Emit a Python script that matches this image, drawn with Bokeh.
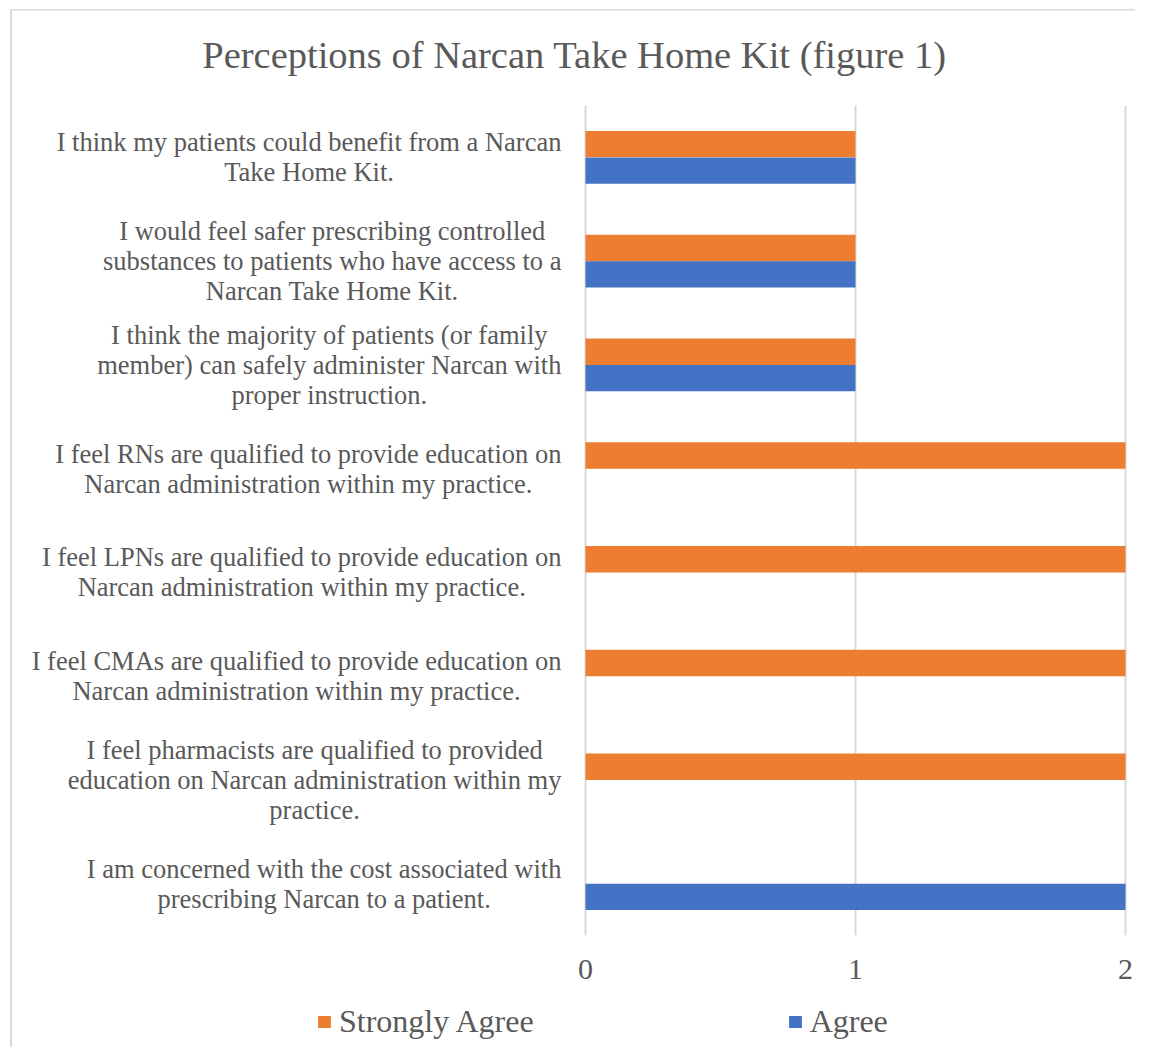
from bokeh.plotting import figure
from bokeh.layouts import column
from bokeh.models import (FactorRange, FixedTicker, Legend, LegendItem,
                          ColumnDataSource, Range1d)
from bokeh.transform import dodge
from bokeh.core.properties import value
from bokeh.embed import file_html
from bokeh.resources import INLINE

# ---- data (top to bottom) ----
categories = [
    "I think my patients could benefit from a Narcan\nTake Home Kit.",
    "I would feel safer prescribing controlled\nsubstances to patients who have access to a\nNarcan Take Home Kit.",
    "I think the majority of patients (or family\nmember) can safely administer Narcan with\nproper instruction.",
    "I feel RNs are qualified to provide education on\nNarcan administration within my practice.",
    "I feel LPNs are qualified to provide education on\nNarcan administration within my practice.",
    "I feel CMAs are qualified to provide education on\nNarcan administration within my practice.",
    "I feel pharmacists are qualified to provided\neducation on Narcan administration within my\npractice.",
    "I am concerned with the cost associated with\nprescribing Narcan to a patient.",
]
strongly_agree = [1, 1, 1, 2, 2, 2, 2, 0]
agree = [1, 1, 1, 0, 0, 0, 0, 2]
x_ticks = [0, 1, 2]
series_names = ["Strongly Agree", "Agree"]
series_colors = ["#ED7D31", "#4472C4"]

TEXT = "#595959"
FONT = "Liberation Serif"
BORDER = "#D9D9D9"

src = ColumnDataSource(dict(cat=categories, sa=strongly_agree, ag=agree))

p = figure(
    width=1135, height=995,
    y_range=FactorRange(factors=list(reversed(categories))),
    x_range=(-2.1, 2.0185),
    output_backend="svg", toolbar_location=None,
    min_border_left=18, min_border_right=5,
    min_border_top=105, min_border_bottom=60,
)
p.outline_line_color = None
p.background_fill_color = "white"
p.border_fill_color = None

bar_h = 0.255
p.hbar(y=dodge("cat", bar_h / 2, range=p.y_range), left=0, right="sa",
       height=bar_h, source=src, fill_color=series_colors[0], line_color=None)
p.hbar(y=dodge("cat", -bar_h / 2, range=p.y_range), left=0, right="ag",
       height=bar_h, source=src, fill_color=series_colors[1], line_color=None)

# category labels (centered lines, block right-aligned to the axis)
p.text(x=-0.089, y="cat", text="cat", source=src,
       text_font=value(FONT), text_font_size="26.5px", text_color=TEXT,
       text_align="center", text_baseline="middle", anchor="center_right",
       text_line_height=1.0)

# axes
p.yaxis.visible = False
p.ygrid.visible = False
p.xaxis.ticker = FixedTicker(ticks=x_ticks)
p.xaxis.axis_line_color = None
p.xaxis.major_tick_line_color = None
p.xaxis.minor_tick_line_color = None
p.xaxis.major_label_text_font = FONT
p.xaxis.major_label_text_font_size = "30px"
p.xaxis.major_label_text_color = TEXT
p.xaxis.major_label_standoff = 18
p.xgrid.ticker = FixedTicker(ticks=x_ticks)
p.xgrid.grid_line_color = BORDER
p.xgrid.grid_line_width = 2

# title
p.title.text = "Perceptions of Narcan Take Home Kit (figure 1)"
p.title.text_font = FONT
p.title.text_font_size = "38.5px"
p.title.text_font_style = "normal"
p.title.text_color = TEXT
p.title.align = "center"
p.title.offset = 28
p.title.standoff = 60

# legend strip below the chart
lg = figure(
    width=1135, height=52, x_range=Range1d(0, 1), y_range=Range1d(0, 1),
    output_backend="svg", toolbar_location=None,
    min_border_left=18, min_border_right=5, min_border_top=0, min_border_bottom=0,
)
lg.axis.visible = False
lg.grid.visible = False
lg.outline_line_color = None
lg.background_fill_color = None
lg.border_fill_color = None
k_sa = lg.hbar(y=[5], left=[0], right=[0], height=0.5,
               fill_color=series_colors[0], line_color=None)
k_ag = lg.hbar(y=[5], left=[0], right=[0], height=0.5,
               fill_color=series_colors[1], line_color=None)
legend = Legend(
    items=[LegendItem(label=series_names[0], renderers=[k_sa]),
           LegendItem(label=series_names[1], renderers=[k_ag])],
    orientation="horizontal", location=(298, 7),
    glyph_width=16, glyph_height=15, label_standoff=7, spacing=253,
    padding=0, margin=0, border_line_color=None, background_fill_alpha=0,
    label_text_font=FONT, label_text_font_size="32px", label_text_color=TEXT,
)
lg.add_layout(legend, "center")

layout = column(p, lg, spacing=0)
layout.styles = {
    "background": (f"linear-gradient({BORDER},{BORDER}) 10px 9px / 2px 100% no-repeat, "
                   f"linear-gradient({BORDER},{BORDER}) 10px 9px / 100% 1.5px no-repeat, white"),
}
open("out.html", "w").write(file_html(layout, INLINE))
